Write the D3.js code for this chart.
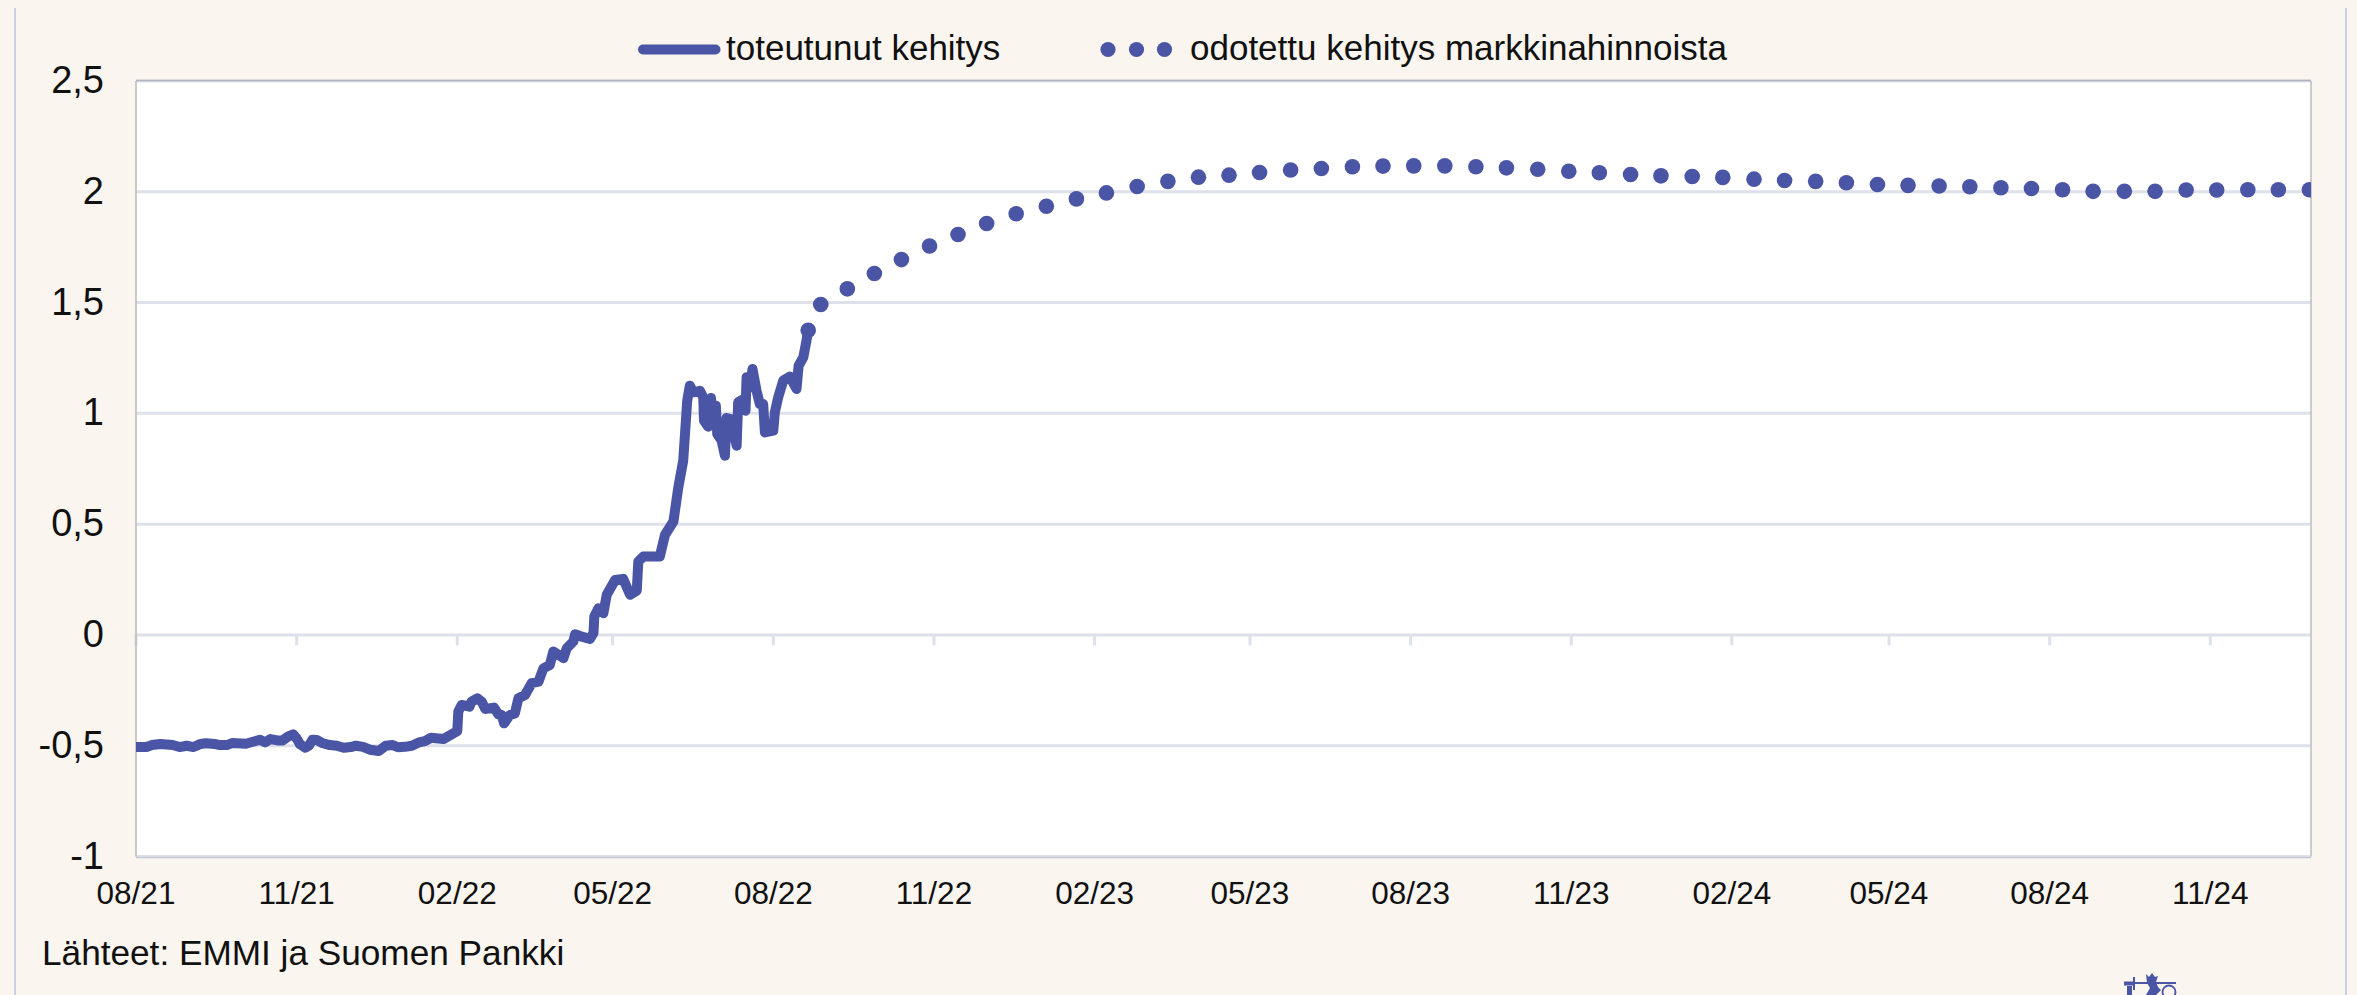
<!DOCTYPE html>
<html lang="fi">
<head>
<meta charset="utf-8">
<script src="https://cdn.jsdelivr.net/npm/d3@7"></script>
<style>
html,body{margin:0;padding:0;background:#faf5ef;overflow:hidden}
svg{display:block}
text{font-family:"Liberation Sans",Arial,sans-serif;fill:#111}
</style>
</head>
<body>
<svg id="chart" width="2357" height="995"></svg>
<script>
// x values are days since 1 Aug 2021
const tickLabels = ["08/21","11/21","02/22","05/22","08/22","11/22","02/23","05/23","08/23","11/23","02/24","05/24","08/24","11/24"];
const tickDays = [0,92,184,273,365,457,549,638,730,822,914,1004,1096,1188];
const yTicks = [-1,-0.5,0,0.5,1,1.5,2,2.5];
const yTickLabels = ["-1","-0,5","0","0,5","1","1,5","2","2,5"];
const legendLabels = ["toteutunut kehitys","odotettu kehitys markkinahinnoista"];
const sourceText = "Lähteet: EMMI ja Suomen Pankki";

const actualDays = [0,6,9,14,21,25,29,33,37,40,45,48,52,55,63,67,71,74,77,81,84,87,90,92,94,97,99,101,103.5,107,111,115,119,123,126,130,134,139,143,147,150,154,158,162,165.5,169,176,180,184,184.6,186.5,191,192.2,195.5,198,200,205,207.5,209.4,210.8,214.2,217,219,222.8,226.6,230.5,233.3,237,239,244.8,246.7,250.5,251.5,255.3,260,262,262.5,264.8,267.7,269.6,274.4,279,283,286.8,287.7,290.6,300,303,307.8,310.6,313.4,315.7,317.2,319.2,323,324.9,325.3,327.7,329.3,330.6,332.1,332.9,335.4,337.3,338.2,340.5,344,344.9,346.8,349.1,349.7,351.6,353.1,355.4,357.3,359.2,360.2,365,365.9,367.8,370.7,374.5,378.3,379.5,382.2,384,385];
const actualValues = [-0.506,-0.506,-0.497,-0.492,-0.497,-0.506,-0.5,-0.506,-0.492,-0.489,-0.492,-0.497,-0.497,-0.488,-0.491,-0.482,-0.473,-0.485,-0.47,-0.476,-0.476,-0.459,-0.449,-0.467,-0.494,-0.509,-0.5,-0.473,-0.474,-0.489,-0.497,-0.5,-0.509,-0.506,-0.5,-0.505,-0.518,-0.524,-0.5,-0.497,-0.507,-0.505,-0.5,-0.485,-0.479,-0.464,-0.47,-0.452,-0.434,-0.346,-0.316,-0.324,-0.301,-0.286,-0.301,-0.334,-0.328,-0.358,-0.361,-0.399,-0.361,-0.354,-0.286,-0.271,-0.218,-0.211,-0.151,-0.136,-0.075,-0.105,-0.06,-0.03,0.003,-0.008,-0.018,0.008,0.083,0.12,0.098,0.181,0.248,0.253,0.181,0.199,0.331,0.354,0.354,0.452,0.512,0.666,0.786,1.057,1.125,1.095,1.102,1.072,0.967,0.94,1.069,0.944,1.035,0.907,0.877,0.809,0.979,0.974,0.854,1.05,1.06,1.012,1.163,1.117,1.2,1.102,1.042,1.042,0.914,0.922,1.005,1.072,1.148,1.166,1.11,1.215,1.253,1.328,1.375];

const expectedDays = [385,392.2,407.4,422.9,438.4,454.5,470.8,487.2,504.1,521.4,538.6,555.8,573.4,591,608.5,626,643.5,661.3,678.9,696.7,714.2,731.8,749.6,767.4,784.9,802.8,820.6,838.1,856,873.4,891.3,908.8,926.7,944.2,962,979.6,997.4,1014.9,1032.7,1050.3,1068.1,1085.6,1103.4,1120.9,1138.8,1156.4,1174.2,1191.7,1209.5,1227,1244.8];
const expectedValues = [1.375,1.491,1.562,1.631,1.694,1.755,1.807,1.857,1.901,1.935,1.968,1.995,2.024,2.047,2.066,2.075,2.087,2.098,2.105,2.113,2.116,2.117,2.117,2.113,2.108,2.102,2.093,2.086,2.078,2.072,2.069,2.065,2.057,2.051,2.047,2.041,2.033,2.029,2.026,2.023,2.018,2.015,2.009,2.002,2.002,2.002,2.008,2.008,2.009,2.009,2.009];

const BLUE = "#4b55a5", GRID = "#dfe1ea";
const svg = d3.select("#chart");
const x = d3.scaleLinear().domain([0,1245.7]).range([136,2311]);
const y = d3.scaleLinear().domain([-1,2.5]).range([856.5,81]);
const [left,right] = x.range();
const [bottom,top_] = y.range();

// outer frame
[15,2346].forEach(fx => svg.append("line").attr("x1",fx).attr("x2",fx).attr("y1",8).attr("y2",995)
  .attr("stroke","#c9d0e0").attr("stroke-width",2));

// plot background
svg.append("rect").attr("x",left).attr("y",top_).attr("width",right-left).attr("height",bottom-top_).attr("fill","#fff");

// gridlines
svg.append("g").selectAll("line").data(yTicks).join("line")
  .attr("x1",left).attr("x2",right)
  .attr("y1",d=>y(d)).attr("y2",d=>y(d))
  .attr("stroke",GRID).attr("stroke-width",3);

// ticks hanging from the zero line
svg.append("g").selectAll("line").data(tickDays).join("line")
  .attr("x1",d=>x(d)).attr("x2",d=>x(d))
  .attr("y1",y(0)).attr("y2",y(0)+10.5)
  .attr("stroke",GRID).attr("stroke-width",3);

// plot border
svg.append("line").attr("x1",left).attr("x2",left).attr("y1",top_).attr("y2",bottom).attr("stroke","#bdb9b4").attr("stroke-width",1.5);
svg.append("line").attr("x1",right).attr("x2",right).attr("y1",top_).attr("y2",bottom).attr("stroke","#bdbdbd").attr("stroke-width",1.5);
svg.append("line").attr("x1",left).attr("x2",right).attr("y1",top_-0.5).attr("y2",top_-0.5).attr("stroke","#b0b3bb").attr("stroke-width",1.5);
svg.append("line").attr("x1",left).attr("x2",right).attr("y1",bottom+1).attr("y2",bottom+1).attr("stroke","#c4c6d2").attr("stroke-width",1.5);

// axis labels
svg.append("g").selectAll("text").data(yTicks).join("text")
  .attr("x",104).attr("y",d=>y(d)+12).attr("text-anchor","end").attr("font-size",38)
  .text((d,i)=>yTickLabels[i]);
svg.append("g").selectAll("text").data(tickDays).join("text")
  .attr("x",d=>x(d)).attr("y",904).attr("text-anchor","middle").attr("font-size",31.5)
  .text((d,i)=>tickLabels[i]);

// series
svg.append("defs").append("clipPath").attr("id","plotClip").append("rect")
  .attr("x",left).attr("y",top_).attr("width",right-left).attr("height",bottom-top_);
const line = d3.line().x(d=>x(d[0])).y(d=>y(d[1])).curve(d3.curveLinear);
svg.append("path").datum(d3.zip(actualDays,actualValues)).attr("d",line)
  .attr("fill","none").attr("stroke",BLUE).attr("stroke-width",10)
  .attr("stroke-linejoin","round").attr("stroke-linecap","round").attr("clip-path","url(#plotClip)");
svg.append("g").attr("clip-path","url(#plotClip)").selectAll("circle").data(d3.zip(expectedDays,expectedValues)).join("circle")
  .attr("cx",d=>x(d[0])).attr("cy",d=>y(d[1])).attr("r",7.8).attr("fill",BLUE);

// legend
svg.append("line").attr("x1",643).attr("x2",715.5).attr("y1",49.5).attr("y2",49.5)
  .attr("stroke",BLUE).attr("stroke-width",10).attr("stroke-linecap","round");
svg.append("text").attr("x",726).attr("y",60).attr("font-size",35).text(legendLabels[0]);
svg.append("g").selectAll("circle").data([1108,1136.5,1164.5]).join("circle")
  .attr("cx",d=>d).attr("cy",49.5).attr("r",7.6).attr("fill",BLUE);
svg.append("text").attr("x",1190).attr("y",60).attr("font-size",35).text(legendLabels[1]);

// source
svg.append("text").attr("x",42).attr("y",965).attr("font-size",35.2).text(sourceText);

// Bank of Finland emblem, cut by the bottom edge
const logo = svg.append("g").attr("fill",BLUE).attr("stroke",BLUE);
logo.append("rect").attr("x",2124).attr("y",981.5).attr("width",10).attr("height",4).attr("stroke","none");
logo.append("line").attr("x1",2133).attr("x2",2176).attr("y1",983).attr("y2",983).attr("stroke-width",1.8);
logo.append("line").attr("x1",2134).attr("x2",2134).attr("y1",977).attr("y2",990).attr("stroke-width",2);
logo.append("path").attr("d","M2146 974 L2149 977 L2152 973 L2155 977 L2158 976 L2156 982 L2158 987 L2161 990 L2156 995 L2146 995 L2150 988 L2147 983 Z").attr("stroke","none");
logo.append("path").attr("d","M2127 986 h5 v9 h-5 Z").attr("stroke","none");
logo.append("circle").attr("cx",2169).attr("cy",992).attr("r",6.5).attr("fill","none").attr("stroke-width",1.8);
</script>
</body>
</html>
